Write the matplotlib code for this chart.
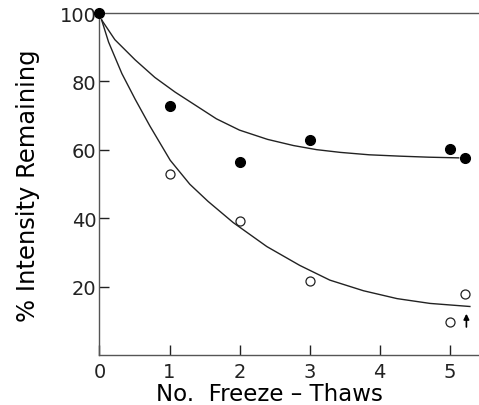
import numpy as np
import matplotlib
matplotlib.use("Agg")
import matplotlib.pyplot as plt

# measured points
filled_x = [0, 1, 2, 3, 5, 5.22]
filled_y = [100, 72.8, 56.4, 63.0, 60.2, 57.8]
open_x = [1, 2, 3, 5, 5.22]
open_y = [52.9, 39.3, 21.7, 9.7, 18.0]

# hand drawn curves
upper_x = [0.03, 0.22, 0.51, 0.79, 1.08, 1.36, 1.67, 2.0, 2.4, 2.77, 3.1, 3.44, 3.85, 4.29, 4.7, 5.13]
upper_y = [98.0, 92.2, 86.3, 81.2, 76.9, 73.2, 69.1, 65.8, 63.1, 61.3, 60.1, 59.3, 58.6, 58.2, 57.9, 57.7]
lower_x = [0.03, 0.13, 0.32, 0.51, 0.72, 1.01, 1.29, 1.55, 1.91, 2.39, 2.86, 3.29, 3.77, 4.25, 4.72, 5.29]
lower_y = [98.0, 91.5, 82.3, 74.8, 67.0, 57.0, 50.0, 45.0, 38.8, 31.8, 26.3, 22.0, 18.9, 16.6, 15.2, 14.3]

xticks = [0, 1, 2, 3, 4, 5]
yticks = [20, 40, 60, 80, 100]

fig = plt.figure(figsize=(4.79, 4.06), dpi=100)
ax = fig.add_axes([0.2077, 0.122, 0.7923, 0.8435])

ink = "#222222"
ax.plot(upper_x, upper_y, color=ink, lw=1.0)
ax.plot(lower_x, lower_y, color=ink, lw=1.0)
ax.plot(filled_x, filled_y, "o", color="black", ms=7, clip_on=False, zorder=5)
ax.plot(open_x, open_y, "o", mfc="white", mec=ink, mew=0.9, ms=6.5, clip_on=False, zorder=5)

# arrow under the last open point
ax.annotate("", xy=(5.24, 13.0), xytext=(5.24, 7.5),
            arrowprops=dict(arrowstyle="-|>", color="black", lw=1.2, mutation_scale=8))

ax.set_xlim(0, 5.42)
ax.set_ylim(0, 100)
ax.set_xticks(xticks)
ax.set_yticks(yticks)
ax.tick_params(direction="in", length=7, width=1.0, colors=ink, labelsize=14)
ax.tick_params(axis="x", pad=5)
ax.tick_params(axis="y", pad=2)
ax.yaxis.get_major_ticks()[-1].tick1line.set_visible(False)

for s in ["left", "bottom", "top"]:
    ax.spines[s].set_color("#555555")
    ax.spines[s].set_linewidth(1.0)
ax.spines["right"].set_visible(False)

ax.set_xlabel("No.  Freeze – Thaws", fontsize=16.5, color="black")
ax.xaxis.set_label_coords(0.449, -0.077)
ax.set_ylabel("% Intensity Remaining", fontsize=17.5, color="black")
ax.yaxis.set_label_coords(-0.157, 0.5)

fig.savefig("out.png", dpi=100)
